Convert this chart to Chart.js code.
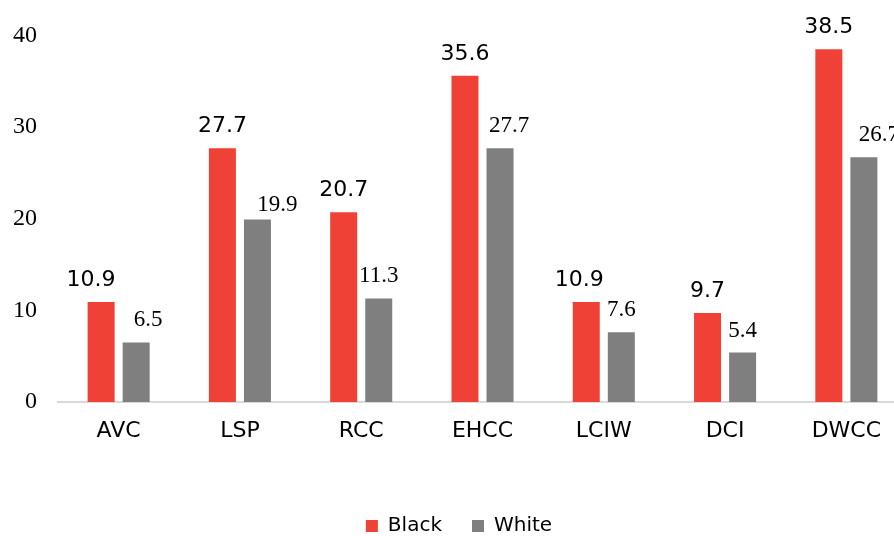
<!DOCTYPE html>
<html>
<head>
<meta charset="utf-8">
<script src="https://cdn.jsdelivr.net/npm/chart.js@4/dist/chart.umd.min.js"></script>
<style>
  html, body { margin: 0; padding: 0; background: #fff; }
  #wrap { width: 894px; height: 536px; }
</style>
</head>
<body>
<div id="wrap"><canvas id="chart" width="894" height="536"></canvas></div>
<script>
var categories = ['AVC', 'LSP', 'RCC', 'EHCC', 'LCIW', 'DCI', 'DWCC'];
var blackValues = [10.9, 27.7, 20.7, 35.6, 10.9, 9.7, 38.5];
var whiteValues = [6.5, 19.9, 11.3, 27.7, 7.6, 5.4, 26.7];
var yTicks = [0, 10, 20, 30, 40];

// label nudges (px), mirroring hand-moved labels in the original
var blackNudgeX = [-10, 0, 0, 0, -7, 0, 0];
var whiteNudgeX = [12, 20, 0, 9, 0, 0, 15];
var whiteNudgeY = [0, 7, 0, 0, 0, 0, 0];

var SANS = '"DejaVu Sans", Verdana, sans-serif';
var SERIF = '"Liberation Serif", "Times New Roman", serif';
var PLOT_OVERRUN = 13; // the plot runs past the right edge in the original

var valueLabels = {
    id: 'valueLabels',
    afterDatasetsDraw: function (chart) {
        var ctx = chart.ctx;
        ctx.save();
        ctx.textAlign = 'center';
        ctx.textBaseline = 'alphabetic';
        ctx.fillStyle = '#000';
        chart.data.datasets.forEach(function (ds, i) {
            var meta = chart.getDatasetMeta(i);
            meta.data.forEach(function (bar, j) {
                var dx = 0, dy = 0;
                if (i === 0) {
                    ctx.font = '22px ' + SANS;
                    dx = blackNudgeX[j];
                } else {
                    ctx.font = '23px ' + SERIF;
                    dx = whiteNudgeX[j];
                    dy = whiteNudgeY[j];
                }
                ctx.fillText(String(ds.data[j]), bar.x + dx, bar.y - 16 + dy);
            });
        });
        ctx.restore();
    }
};

var layoutTweaks = {
    id: 'layoutTweaks',
    afterLayout: function (chart) {
        var lg = chart.legend;
        if (lg) {
            lg.top += 10;
            lg.bottom += 10;
            lg.left += 12;
            lg.right += 12;
        }
        var x = chart.scales.x;
        x.right += PLOT_OVERRUN;
        x.width += PLOT_OVERRUN;
        chart.chartArea.right += PLOT_OVERRUN;
        chart.chartArea.width += PLOT_OVERRUN;
        x.configure();
    }
};

new Chart(document.getElementById('chart'), {
    type: 'bar',
    data: {
        labels: categories,
        datasets: [
            { label: 'Black', data: blackValues, backgroundColor: '#EF4136', borderWidth: 0 },
            { label: 'White', data: whiteValues, backgroundColor: '#7F7F7F', borderWidth: 0 }
        ]
    },
    options: {
        responsive: false,
        animation: false,
        devicePixelRatio: 1,
        layout: { padding: { top: 34, right: 0, left: 0, bottom: 0 } },
        datasets: { bar: { categoryPercentage: 0.578, barPercentage: 0.77 } },
        plugins: {
            tooltip: { enabled: false },
            legend: {
                position: 'bottom',
                labels: {
                    boxWidth: 12,
                    boxHeight: 12,
                    padding: 30,
                    color: '#000',
                    font: { family: SANS, size: 20 }
                }
            }
        },
        scales: {
            x: {
                grid: { display: false, drawTicks: false },
                border: { display: true, color: '#D9D9D9', width: 2 },
                ticks: { color: '#000', padding: 16, font: { family: SANS, size: 22 } },
                afterFit: function (scale) { scale.height = 74; }
            },
            y: {
                min: 0,
                max: 40,
                grid: { display: false, drawTicks: false },
                border: { display: false },
                afterBuildTicks: function (scale) {
                    scale.ticks = yTicks.map(function (v) { return { value: v }; });
                },
                ticks: { color: '#000', padding: 21, font: { family: SERIF, size: 24 } },
                afterFit: function (scale) { scale.width = 58; }
            }
        }
    },
    plugins: [valueLabels, layoutTweaks]
});
</script>
</body>
</html>
